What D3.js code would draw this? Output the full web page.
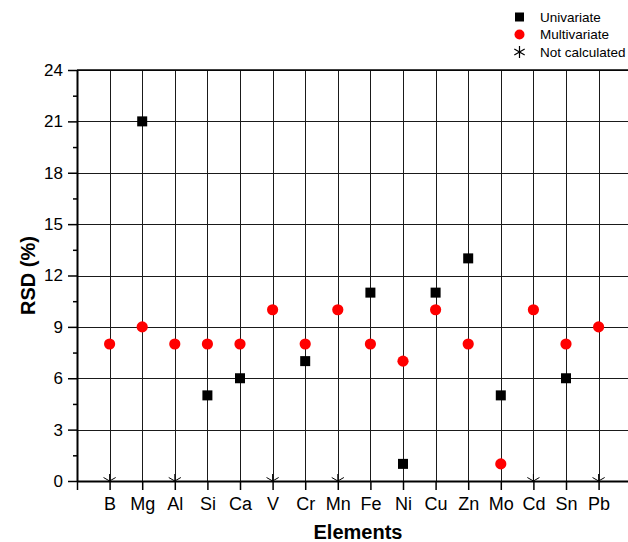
<!DOCTYPE html>
<html>
<head>
<meta charset="utf-8">
<script src="https://cdn.jsdelivr.net/npm/d3@7"></script>
<style>
  body { margin: 0; background: #fff; }
  svg { font-family: "Liberation Sans", Arial, Helvetica, sans-serif; }
</style>
</head>
<body>
<div id="chart"></div>
<script>
const elements = ["B", "Mg", "Al", "Si", "Ca", "V", "Cr", "Mn", "Fe", "Ni", "Cu", "Zn", "Mo", "Cd", "Sn", "Pb"];
// null = not calculated
const univariate = [null, 21, null, 5, 6, null, 7, null, 11, 1, 11, 13, 5, null, 6, null];
const multivariate = [8, 9, 8, 8, 8, 10, 8, 10, 8, 7, 10, 8, 1, 10, 8, 9];
const yTicks = [0, 3, 6, 9, 12, 15, 18, 21, 24];
const yMinorTicks = [1.5, 4.5, 7.5, 10.5, 13.5, 16.5, 19.5, 22.5];

const W = 628, H = 542;
const margin = { top: 70, left: 77, bottom: 61 };

const svg = d3.select("#chart").append("svg")
    .attr("width", W)
    .attr("height", H);

// x: index 0 = left axis, elements at 1..16, frame end at 17 (past the edge)
const x = d3.scaleLinear()
    .domain([0, 17])
    .range([margin.left, margin.left + 17 * 32.6]);

const y = d3.scaleLinear()
    .domain([0, 24])
    .range([H - margin.bottom, margin.top]);

const grid = svg.append("g").attr("stroke", "#1a1a1a").attr("stroke-width", 1);

// vertical grid lines at each element
grid.selectAll("line.v")
    .data(elements)
    .enter()
    .append("line")
    .attr("class", "v")
    .attr("x1", (d, i) => Math.round(x(i + 1)) + 0.5)
    .attr("x2", (d, i) => Math.round(x(i + 1)) + 0.5)
    .attr("y1", y(24))
    .attr("y2", y(0));

// horizontal grid lines at major ticks
grid.selectAll("line.h")
    .data(yTicks.filter(t => t > 0))
    .enter()
    .append("line")
    .attr("class", "h")
    .attr("x1", x(0))
    .attr("x2", W)
    .attr("y1", d => Math.round(y(d)) + 0.5)
    .attr("y2", d => Math.round(y(d)) + 0.5);

// Y-axis
const yAxis = svg.append("g")
    .attr("transform", `translate(${x(0)},0)`)
    .call(d3.axisLeft(y).tickValues(yTicks).tickSize(9).tickPadding(5).tickSizeOuter(0));
yAxis.select(".domain").attr("stroke-width", 2);
yAxis.selectAll(".tick line").attr("stroke-width", 1.5);
yAxis.selectAll("text").attr("font-size", "17px").attr("fill", "#000");

svg.append("g")
    .attr("transform", `translate(${x(0)},0)`)
    .call(d3.axisLeft(y).tickValues(yMinorTicks).tickSize(4).tickFormat(""))
    .call(g => g.select(".domain").remove())
    .selectAll(".tick line").attr("stroke-width", 1.5);

// X-axis
const xAxis = svg.append("g")
    .attr("transform", `translate(0,${y(0)})`)
    .call(d3.axisBottom(x)
        .tickValues(d3.range(0, 17))
        .tickSize(9)
        .tickPadding(7)
        .tickSizeOuter(0)
        .tickFormat(i => i === 0 ? "" : elements[i - 1]));
xAxis.select(".domain").attr("stroke-width", 2);
xAxis.selectAll(".tick line").attr("stroke-width", 1.5);
xAxis.selectAll("text").attr("font-size", "18px").attr("fill", "#000");

// top frame line
svg.append("line")
    .attr("x1", x(0)).attr("x2", W)
    .attr("y1", y(24)).attr("y2", y(24))
    .attr("stroke", "#000").attr("stroke-width", 1.5);

// asterisk symbol path
function asteriskPath(r) {
    const p = [];
    [90, 30, 150].forEach(a => {
        const rad = a * Math.PI / 180;
        const dx = r * Math.cos(rad), dy = r * Math.sin(rad);
        p.push(`M${-dx},${-dy}L${dx},${dy}`);
    });
    return p.join("");
}

svg.append("clipPath").attr("id", "plotClip")
    .append("rect")
    .attr("x", x(0)).attr("y", y(24))
    .attr("width", W - x(0)).attr("height", y(0) - y(24));

const marks = svg.append("g").attr("clip-path", "url(#plotClip)");

// not calculated
marks.selectAll("path.nc")
    .data(elements.map((e, i) => ({ i, v: univariate[i] })).filter(d => d.v === null))
    .enter()
    .append("path")
    .attr("class", "nc")
    .attr("transform", d => `translate(${x(d.i + 1)},${y(0)})`)
    .attr("d", asteriskPath(7))
    .attr("stroke", "#000")
    .attr("stroke-width", 1)
    .attr("fill", "none");

// univariate squares
marks.selectAll("rect.uni")
    .data(elements.map((e, i) => ({ i, v: univariate[i] })).filter(d => d.v !== null))
    .enter()
    .append("rect")
    .attr("class", "uni")
    .attr("x", d => x(d.i + 1) - 5)
    .attr("y", d => y(d.v) - 5)
    .attr("width", 10)
    .attr("height", 10)
    .attr("fill", "#000");

// multivariate circles
svg.selectAll("circle.multi")
    .data(elements.map((e, i) => ({ i, v: multivariate[i] })))
    .enter()
    .append("circle")
    .attr("class", "multi")
    .attr("cx", d => x(d.i + 1))
    .attr("cy", d => y(d.v))
    .attr("r", 5.6)
    .attr("fill", "#ff0000");

// Labels
svg.append("text")
    .attr("text-anchor", "middle")
    .attr("x", 358)
    .attr("y", 539)
    .attr("font-size", "20px")
    .attr("font-weight", "bold")
    .text("Elements");

svg.append("text")
    .attr("text-anchor", "middle")
    .attr("transform", "rotate(-90)")
    .attr("x", -(y(0) + y(24)) / 2)
    .attr("y", 35)
    .attr("font-size", "20px")
    .attr("font-weight", "bold")
    .text("RSD (%)");

// Legend
const legend = svg.append("g").attr("font-size", "13.5px");
const legendItems = ["Univariate", "Multivariate", "Not calculated"];
legendItems.forEach((name, k) => {
    const cy = 17 + k * 17.5;
    if (k === 0) {
        legend.append("rect").attr("x", 515).attr("y", cy - 4.5).attr("width", 9).attr("height", 9).attr("fill", "#000");
    } else if (k === 1) {
        legend.append("circle").attr("cx", 519.5).attr("cy", cy).attr("r", 5).attr("fill", "#ff0000");
    } else {
        legend.append("path").attr("transform", `translate(519.5,${cy})`)
            .attr("d", asteriskPath(6)).attr("stroke", "#000").attr("stroke-width", 1.2).attr("fill", "none");
    }
    legend.append("text").attr("x", 540).attr("y", cy + 4.5).text(name);
});
</script>
</body>
</html>
